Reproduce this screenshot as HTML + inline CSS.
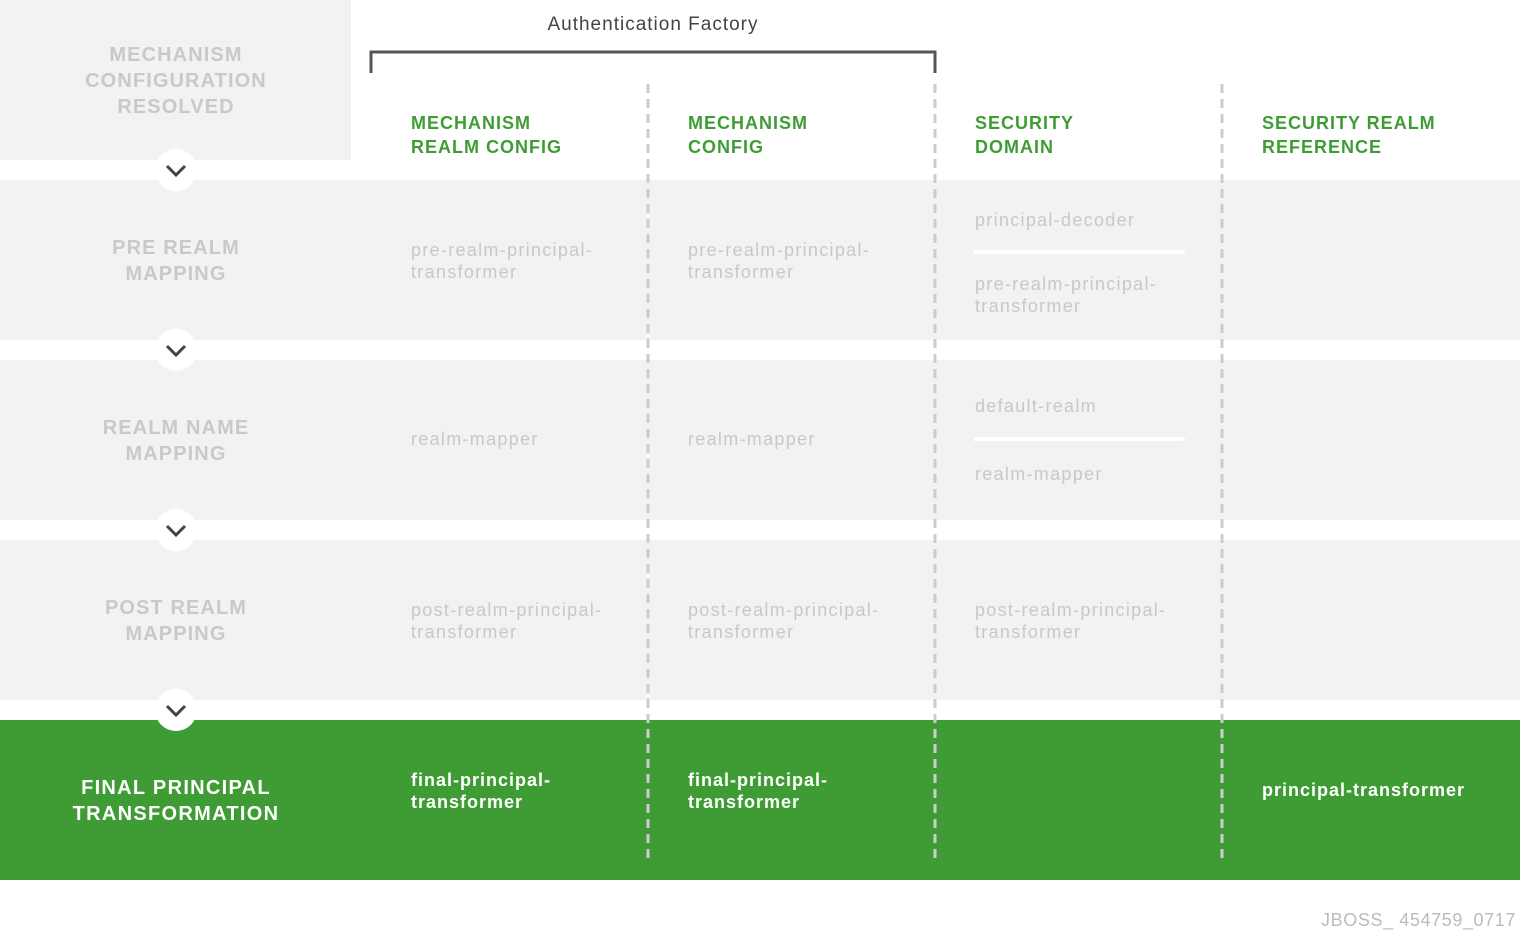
<!DOCTYPE html>
<html><head><meta charset="utf-8"><style>
html,body{margin:0;padding:0;background:#fff;}
svg{display:block;}
text{font-family:"Liberation Sans",sans-serif;}
.lab{font-size:20px;font-weight:bold;fill:#c9c9c9;text-anchor:middle;letter-spacing:1.1px;}
.hd{font-size:18px;font-weight:bold;fill:#3f9c35;letter-spacing:1px;}
.c{font-size:18px;fill:#c8c8c8;letter-spacing:1.3px;}
.w{font-size:18px;font-weight:bold;fill:#fff;letter-spacing:1px;}
</style></head><body>
<svg width="1520" height="940" viewBox="0 0 1520 940">
<rect x="0" y="0" width="351" height="160" fill="#f2f2f2"/>
<rect x="0" y="180" width="1520" height="160" fill="#f2f2f2"/>
<rect x="0" y="360" width="1520" height="160" fill="#f2f2f2"/>
<rect x="0" y="540" width="1520" height="160" fill="#f2f2f2"/>
<rect x="0" y="720" width="1520" height="160" fill="#3f9c35"/>
<g stroke="#fff" stroke-width="4" stroke-linecap="round">
<line x1="975" y1="252" x2="1183" y2="252"/>
<line x1="975" y1="439" x2="1183" y2="439"/>
</g>
<g stroke="#cccccc" stroke-width="3" stroke-dasharray="9,6">
<line x1="648" y1="84" x2="648" y2="860"/>
<line x1="935" y1="84" x2="935" y2="860"/>
<line x1="1222" y1="84" x2="1222" y2="860"/>
</g>
<path d="M371 73 V52 H935 V73" fill="none" stroke="#555" stroke-width="3"/>
<text x="653" y="30" font-size="19" fill="#444" text-anchor="middle" letter-spacing="1">Authentication Factory</text>
<g fill="#fff">
<circle cx="176" cy="170" r="21"/><circle cx="176" cy="350" r="21"/>
<circle cx="176" cy="530" r="21"/><circle cx="176" cy="710" r="21"/>
</g>
<g fill="none" stroke="#444" stroke-width="3">
<path d="M167 166 L176 175 L185 166"/><path d="M167 346 L176 355 L185 346"/>
<path d="M167 526 L176 535 L185 526"/><path d="M167 706 L176 715 L185 706"/>
</g>
<text class="lab" x="176" y="61">MECHANISM</text>
<text class="lab" x="176" y="87">CONFIGURATION</text>
<text class="lab" x="176" y="113">RESOLVED</text>
<text class="lab" x="176" y="254">PRE REALM</text>
<text class="lab" x="176" y="280">MAPPING</text>
<text class="lab" x="176" y="434">REALM NAME</text>
<text class="lab" x="176" y="460">MAPPING</text>
<text class="lab" x="176" y="614">POST REALM</text>
<text class="lab" x="176" y="640">MAPPING</text>
<text class="lab" x="176" y="794" style="fill:#fff;letter-spacing:1.3px">FINAL PRINCIPAL</text>
<text class="lab" x="176" y="820" style="fill:#fff;letter-spacing:1.3px">TRANSFORMATION</text>
<text class="hd" x="411" y="129">MECHANISM</text><text class="hd" x="411" y="153">REALM CONFIG</text>
<text class="hd" x="688" y="129">MECHANISM</text><text class="hd" x="688" y="153">CONFIG</text>
<text class="hd" x="975" y="129">SECURITY</text><text class="hd" x="975" y="153">DOMAIN</text>
<text class="hd" x="1262" y="129">SECURITY REALM</text><text class="hd" x="1262" y="153">REFERENCE</text>
<text class="c" x="411" y="256">pre-realm-principal-</text><text class="c" x="411" y="278">transformer</text>
<text class="c" x="688" y="256">pre-realm-principal-</text><text class="c" x="688" y="278">transformer</text>
<text class="c" x="975" y="226">principal-decoder</text>
<text class="c" x="975" y="290">pre-realm-principal-</text><text class="c" x="975" y="312">transformer</text>
<text class="c" x="411" y="445">realm-mapper</text>
<text class="c" x="688" y="445">realm-mapper</text>
<text class="c" x="975" y="412">default-realm</text>
<text class="c" x="975" y="480">realm-mapper</text>
<text class="c" x="411" y="616">post-realm-principal-</text><text class="c" x="411" y="638">transformer</text>
<text class="c" x="688" y="616">post-realm-principal-</text><text class="c" x="688" y="638">transformer</text>
<text class="c" x="975" y="616">post-realm-principal-</text><text class="c" x="975" y="638">transformer</text>
<text class="w" x="411" y="786">final-principal-</text><text class="w" x="411" y="808">transformer</text>
<text class="w" x="688" y="786">final-principal-</text><text class="w" x="688" y="808">transformer</text>
<text class="w" x="1262" y="796">principal-transformer</text>
<text x="1516" y="926" font-size="18" fill="#bbb" text-anchor="end" letter-spacing="0.6">JBOSS_ 454759_0717</text>
</svg>
</body></html>
